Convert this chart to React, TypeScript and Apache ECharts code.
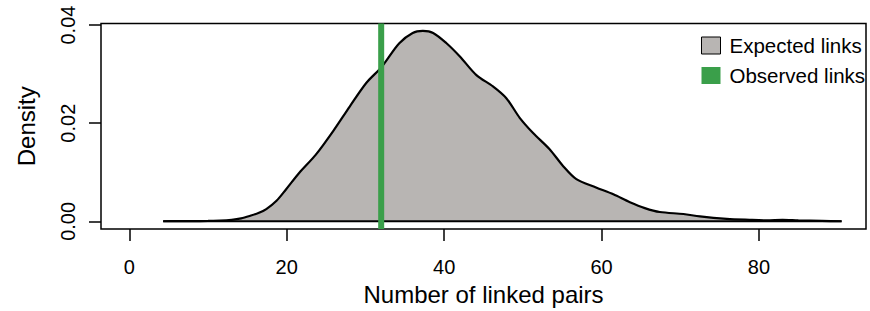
import React, { useEffect, useRef } from "react";
import * as echarts from "echarts";

// Density estimate of expected links (x = number of linked pairs, y = density)
const densityX = [4.3, 6, 8, 10, 11.5, 13, 14.2, 15.3, 16.4, 17.4, 18.7, 19.9, 21.6, 23.7, 25.9, 28.0, 30.1, 31.8, 32.4, 34.3, 36.0, 37.3, 38.6, 40.3, 42.0, 44.1, 46.2, 47.9, 49.6, 51.3, 53.4, 55.1, 56.8, 59.3, 61.5, 63.6, 65.5, 67.4, 70.4, 72.5, 75.9, 78.8, 81, 83, 85, 88, 90.5];
const densityY = [0.00002, 0.00003, 0.00005, 0.00008, 0.00013, 0.0003, 0.0006, 0.0011, 0.0017, 0.0025, 0.0042, 0.0065, 0.0099, 0.0136, 0.0184, 0.0234, 0.0282, 0.0310, 0.0322, 0.0363, 0.0384, 0.0388, 0.0384, 0.0363, 0.0336, 0.0298, 0.0275, 0.0251, 0.0211, 0.0180, 0.0147, 0.0113, 0.0086, 0.0069, 0.0055, 0.0039, 0.0027, 0.0019, 0.0015, 0.0010, 0.0005, 0.0003, 0.0002, 0.0003, 0.0002, 0.0001, 0.00002];
const observedLinks = 32;
const xTicks = [0, 20, 40, 60, 80];
const yTicks = [0, 0.02, 0.04];
const xRange = [-3.6, 93.6];
const yRange = [-0.00156, 0.04032];

const FONT = "'Liberation Sans', Arial, Helvetica, sans-serif";

export default function App() {
  const ref = useRef<HTMLDivElement>(null);
  useEffect(() => {
    if (!ref.current) return;
    const chart = echarts.init(ref.current, null, { renderer: "svg" });
    const curve = densityX.map((x, i) => [x, densityY[i]]);
    const baseline = [
      [densityX[0], 0],
      [densityX[densityX.length - 1], 0],
    ];
    chart.setOption({
      animation: false,
      backgroundColor: "#ffffff",
      textStyle: { fontFamily: FONT, color: "#000" },
      grid: {
        left: 101,
        right: 4,
        top: 23.5,
        bottom: 81,
        show: true,
        borderColor: "#000",
        borderWidth: 1.5,
        backgroundColor: "transparent",
      },
      legend: {
        orient: "vertical",
        left: 701,
        top: 35,
        padding: 0,
        itemWidth: 19,
        itemHeight: 17,
        itemGap: 9,
        align: "left",
        textStyle: { fontSize: 20.5, color: "#000", fontFamily: FONT, padding: [0, 0, 0, 4] },
        data: [
          {
            name: "Expected links",
            icon: "rect",
            itemStyle: { color: "#b8b5b3", borderColor: "#000", borderWidth: 1 },
          },
          {
            name: "Observed links",
            icon: "rect",
            itemStyle: { color: "#3a9f4a", borderWidth: 0 },
          },
        ],
      },
      xAxis: {
        type: "value",
        min: xRange[0],
        max: xRange[1],
        splitLine: { show: false },
        axisLine: { show: false, onZero: false },
        axisTick: {
          show: true,
          length: 12,
          customValues: xTicks,
          lineStyle: { color: "#000", width: 1.5 },
        },
        axisLabel: {
          customValues: xTicks,
          fontSize: 20,
          color: "#000",
          margin: 28,
          fontFamily: FONT,
          formatter: (v: number) => String(Math.round(v)),
        },
        name: "Number of linked pairs",
        nameLocation: "middle",
        nameGap: 53,
        nameTextStyle: { fontSize: 24, color: "#000", fontFamily: FONT },
      },
      yAxis: {
        type: "value",
        min: yRange[0],
        max: yRange[1],
        splitLine: { show: false },
        axisLine: { show: false, onZero: false },
        axisTick: {
          show: true,
          length: 12,
          customValues: yTicks,
          lineStyle: { color: "#000", width: 1.5 },
        },
        axisLabel: {
          customValues: yTicks,
          fontSize: 20,
          color: "#000",
          margin: 23,
          rotate: 90,
          fontFamily: FONT,
          formatter: (v: number) => v.toFixed(2),
        },
        name: "Density",
        nameLocation: "middle",
        nameGap: 63,
        nameRotate: 90,
        nameTextStyle: { fontSize: 24, color: "#000", fontFamily: FONT },
      },
      series: [
        {
          name: "Expected links",
          type: "line",
          data: curve,
          smooth: 0.3,
          showSymbol: false,
          symbol: "none",
          lineStyle: { color: "#000", width: 2.2 },
          itemStyle: { color: "#b8b5b3" },
          areaStyle: { color: "#b8b5b3", opacity: 1 },
          z: 2,
        },
        {
          name: "baseline",
          type: "line",
          data: baseline,
          symbol: "none",
          lineStyle: { color: "#000", width: 2 },
          silent: true,
          z: 3,
        },
        {
          name: "Observed links",
          type: "line",
          data: [
            [observedLinks, yRange[0]],
            [observedLinks, yRange[1]],
          ],
          symbol: "none",
          lineStyle: { color: "#3a9f4a", width: 6 },
          itemStyle: { color: "#3a9f4a" },
          z: 4,
        },
      ],
    });
    return () => chart.dispose();
  }, []);
  return (
    <div
      ref={ref}
      style={{ position: "fixed", left: 0, top: 0, width: 870, height: 311, background: "#fff" }}
    />
  );
}
